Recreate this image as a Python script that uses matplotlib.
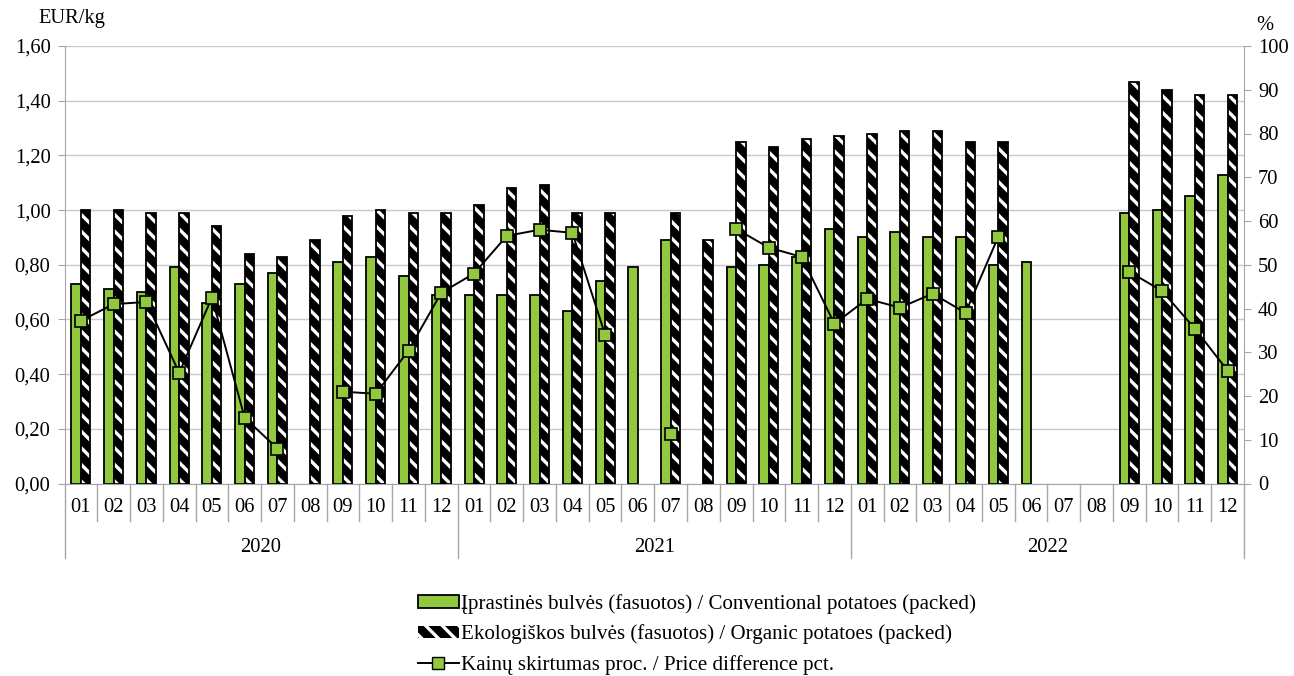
import matplotlib
matplotlib.use("Agg")
import matplotlib.pyplot as plt
import matplotlib.transforms as mtransforms
from matplotlib.patches import Patch
from matplotlib.lines import Line2D
import numpy as np

plt.rcParams['font.family'] = ['Liberation Serif', 'DejaVu Serif']
plt.rcParams['hatch.linewidth'] = 2.4

# Duomenys
years = ["2020", "2021", "2022"]
months = ["01", "02", "03", "04", "05", "06", "07", "08", "09", "10", "11", "12"]
nan = np.nan

conventional = [0.73, 0.71, 0.70, 0.79, 0.66, 0.73, 0.77, nan, 0.81, 0.83, 0.76, 0.69,
                0.69, 0.69, 0.69, 0.63, 0.74, 0.79, 0.89, nan, 0.79, 0.80, 0.83, 0.93,
                0.90, 0.92, 0.90, 0.90, 0.80, 0.81, nan, nan, 0.99, 1.00, 1.05, 1.13]
organic = [1.00, 1.00, 0.99, 0.99, 0.94, 0.84, 0.83, 0.89, 0.98, 1.00, 0.99, 0.99,
           1.02, 1.08, 1.09, 0.99, 0.99, nan, 0.99, 0.89, 1.25, 1.23, 1.26, 1.27,
           1.28, 1.29, 1.29, 1.25, 1.25, nan, nan, nan, 1.47, 1.44, 1.42, 1.42]
diff_pct = [37.2, 41.0, 41.5, 25.3, 42.5, 15.0, 8.0, nan, 21.0, 20.5, 30.4, 43.6,
            48.0, 56.6, 58.0, 57.3, 34.0, nan, 11.4, nan, 58.2, 53.9, 51.8, 36.5,
            42.2, 40.2, 43.4, 39.0, 56.4, nan, nan, nan, 48.4, 44.0, 35.4, 25.8]

green = "#92c83e"
grid_c = "#c8c8c8"
axis_c = "#a6a6a6"
fs = 14.8

n = len(conventional)
x = np.arange(n)
w = 0.29

fig = plt.figure(figsize=(12.94, 6.76), dpi=100)
W, H = 1294, 676
ax = fig.add_axes([64.5 / W, 1 - 483.5 / H, (1244 - 64.5) / W, (483.5 - 46) / H])

ax.bar(x - w / 2, conventional, w, color=green, edgecolor="black", linewidth=1.3, zorder=2)
# juostos su dryžiais: balti brūkšniai ant juodo fono
ax.bar(x + w / 2, organic, w, color="black", edgecolor="white", hatch="\\\\", linewidth=0, zorder=2)
ax.bar(x + w / 2, organic, w, fill=False, edgecolor="black", linewidth=1.3, zorder=3)

ax.set_xlim(-0.5, n - 0.5)
ax.set_ylim(0, 1.6)
ax.set_yticks(np.arange(0, 1.61, 0.2))
ax.set_yticklabels([f"{v:.2f}".replace(".", ",") for v in np.arange(0, 1.61, 0.2)], fontsize=fs)
ax.yaxis.grid(True, color=grid_c, linewidth=1)
ax.set_axisbelow(True)
ax.set_xticks([])
for s in ["top", "right"]:
    ax.spines[s].set_visible(False)
ax.spines["left"].set_color(axis_c)
ax.spines["bottom"].set_color(axis_c)
ax.tick_params(axis="y", color=axis_c, length=5, pad=5)

ax2 = ax.twinx()
ax2.plot(x, diff_pct, color="black", linewidth=1.4, marker="s", markersize=9,
         markerfacecolor=green, markeredgecolor="black", markeredgewidth=1.2, zorder=4)
ax2.set_ylim(0, 100)
ax2.set_yticks(np.arange(0, 101, 10))
ax2.tick_params(axis="y", labelsize=fs, color=axis_c, length=5, pad=5)
for s in ["top", "left", "bottom"]:
    ax2.spines[s].set_visible(False)
ax2.spines["right"].set_color(axis_c)

# kategorijų lentelė po x ašimi
trans = mtransforms.blended_transform_factory(ax.transData, fig.transFigure)
y0 = 1 - 483.5 / H
y_month = 1 - 521 / H
y_year = 1 - 558 / H
for i in range(n + 1):
    bottom = y_year if i % 12 == 0 else y_month
    fig.add_artist(Line2D([i - 0.5, i - 0.5], [y0, bottom], transform=trans,
                          color=axis_c, linewidth=1))
for i in range(n):
    fig.text(i, 1 - 508 / H, months[i % 12], transform=trans, ha="center", va="center", fontsize=fs)
for k, yr in enumerate(years):
    fig.text(k * 12 + 5.5, 1 - 547 / H, yr, transform=trans, ha="center", va="center", fontsize=fs)

fig.text(38 / W, 1 - 19 / H, "EUR/kg", ha="left", va="center", fontsize=fs)
fig.text(1265 / W, 1 - 25 / H, "%", ha="center", va="center", fontsize=fs)

handles = [
    Patch(facecolor=green, edgecolor="black", linewidth=1.3),
    Patch(facecolor="black", edgecolor="white", hatch="\\\\", linewidth=0),
    Line2D([], [], color="black", linewidth=1.4, marker="s", markersize=9,
           markerfacecolor=green, markeredgecolor="black"),
]
labels = [
    "Įprastinės bulvės (fasuotos) / Conventional potatoes (packed)",
    "Ekologiškos bulvės (fasuotos) / Organic potatoes (packed)",
    "Kainų skirtumas proc. / Price difference pct.",
]
fig.legend(handles, labels, loc="upper left", bbox_to_anchor=(418 / W, 1 - 594 / H),
           frameon=False, fontsize=15.1, handlelength=1.95, handleheight=0.55,
           handletextpad=0.1, labelspacing=0.5, borderpad=0, borderaxespad=0)

fig.savefig("out.png", dpi=100)
